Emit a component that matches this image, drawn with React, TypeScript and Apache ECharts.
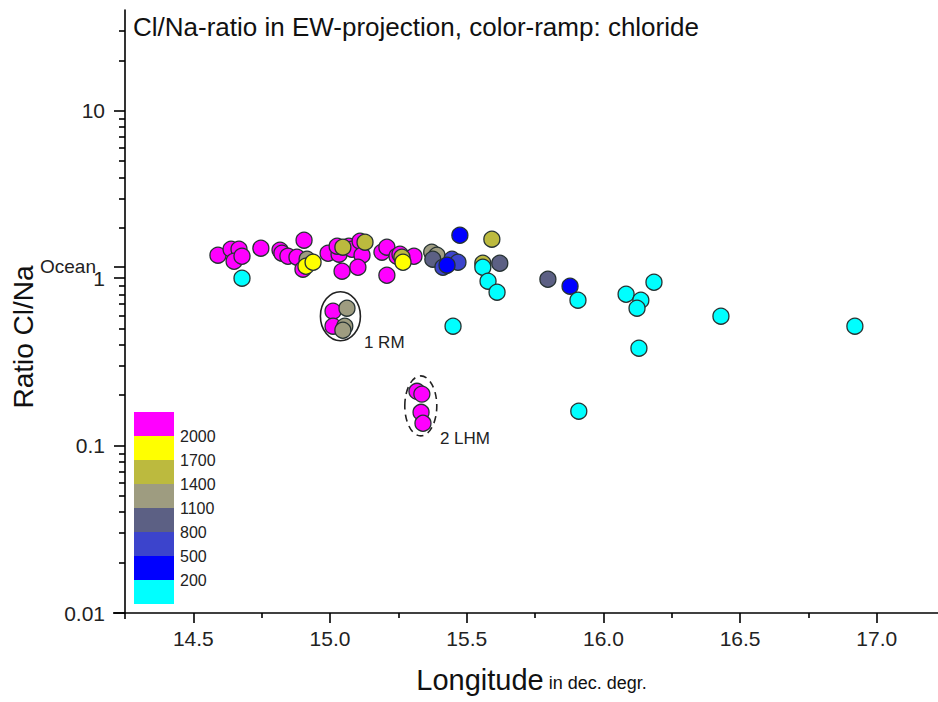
import React, { useEffect, useRef } from "react";
import * as echarts from "echarts";

const FONT = '"Liberation Sans", Arial, Helvetica, sans-serif';

// Longitude (dec. degr.), Cl/Na ratio, chloride (mg/l) per sample
const longitude = [
  14.590, 14.638, 14.667, 14.649, 14.678, 14.747, 14.817, 14.824, 14.846, 14.879,
  14.905, 14.901, 14.993, 15.033, 15.026, 15.069, 15.080, 15.110, 15.117, 15.044,
  15.102, 15.190, 15.208, 15.245, 15.208, 15.256, 15.307, 15.011, 15.011, 15.318,
  15.336, 15.333, 15.340,
  14.916, 15.372, 15.391, 15.062, 15.054, 15.047,
  15.047, 15.128, 15.592, 15.559, 15.263,
  14.912, 14.938, 15.267,
  15.621, 15.797, 15.376,
  15.446, 15.468, 15.413,
  15.475, 15.428, 15.878,
  14.678, 15.559, 15.578, 15.611, 15.907, 16.083, 16.137, 16.123, 16.185, 16.430,
  16.920, 16.130, 15.910, 15.450,
];
const ratio = [
  1.372, 1.490, 1.490, 1.263, 1.353, 1.511, 1.470, 1.410, 1.353, 1.335,
  1.687, 1.132, 1.410, 1.391, 1.553, 1.553, 1.490, 1.663, 1.372, 1.101,
  1.163, 1.430, 1.532, 1.353, 1.042, 1.391, 1.353, 0.635, 0.517, 0.211,
  0.203, 0.158, 0.136,
  1.299, 1.430, 1.372, 0.662, 0.517, 0.489,
  1.532, 1.641, 1.710, 1.229, 1.335,
  1.179, 1.246, 1.246,
  1.229, 0.986, 1.299,
  1.299, 1.246, 1.163,
  1.806, 1.196, 0.896,
  1.000, 1.163, 0.960, 0.825, 0.739, 0.802, 0.739, 0.662, 0.946, 0.593,
  0.517, 0.382, 0.1605, 0.517,
];
const chloride = [
  2300, 2300, 2300, 2300, 2300, 2300, 2300, 2300, 2300, 2300,
  2300, 2300, 2300, 2300, 2300, 2300, 2300, 2300, 2300, 2300,
  2300, 2300, 2300, 2300, 2300, 2300, 2300, 2300, 2300, 2300,
  2300, 2300, 2300,
  1250, 1250, 1250, 1250, 1250, 1250,
  1550, 1550, 1550, 1550, 1550,
  1850, 1850, 1850,
  950, 950, 950,
  650, 650, 650,
  350, 350, 350,
  120, 120, 120, 120, 120, 120, 120, 120, 120, 120,
  120, 120, 120, 120,
];

// colour ramp (low -> high) and class limits
const rampColors = ["#00FFFF", "#0000FF", "#3C44CC", "#5C6084", "#9E9C80", "#BCBA3E", "#FFFF00", "#FF00FF"];
const rampLimits = [200, 500, 800, 1100, 1400, 1700, 2000];

const xMajorTicks = [14.5, 15.0, 15.5, 16.0, 16.5, 17.0];
const xMinorTicks = [14.75, 15.25, 15.75, 16.25, 16.75];
const OCEAN = 1.165;
const yMajorTicks = [0.01, 0.1, 1, OCEAN, 10];
const yLabelValues = [0.01, 0.1, 1, 10];
const yMinorTicks = [
  0.02, 0.03, 0.04, 0.05, 0.06, 0.07, 0.08, 0.09,
  0.2, 0.3, 0.4, 0.5, 0.6, 0.7, 0.8, 0.9,
  2, 3, 4, 5, 6, 7, 8, 9,
  20, 30,
];

// annotations: [lon, ratio]
const rmCenter = [15.038, 0.593];
const lhmCenter = [15.332, 0.1726];
const rmLabelAt = [15.124, 0.415];
const lhmLabelAt = [15.402, 0.1107];

export default function App() {
  const ref = useRef<HTMLDivElement>(null);

  useEffect(() => {
    if (!ref.current) return;
    const chart = echarts.init(ref.current, null, { renderer: "svg" });

    const pieces = rampColors.map((c, i) => {
      const p: any = { color: c };
      if (i > 0) p.gte = rampLimits[i - 1];
      if (i < rampLimits.length) p.lt = rampLimits[i];
      return p;
    });

    const axisLineStyle = { color: "#000", width: 1.6 };

    const option: any = {
      animation: false,
      backgroundColor: "#fff",
      textStyle: { fontFamily: FONT },
      title: {
        text: "Cl/Na-ratio in EW-projection, color-ramp: chloride",
        left: 133,
        top: 14,
        padding: 0,
        textStyle: { fontFamily: FONT, fontSize: 26, fontWeight: "normal", color: "#111" },
      },
      grid: { left: 125, right: 0, top: 10, bottom: 89 },
      visualMap: {
        type: "piecewise",
        show: false,
        dimension: 2,
        seriesIndex: 0,
        pieces,
      },
      xAxis: [
        {
          type: "value",
          min: 14.25,
          max: 17.224,
          position: "bottom",
          axisLine: { show: true, lineStyle: axisLineStyle },
          axisTick: { show: true, customValues: xMajorTicks, length: 10, lineStyle: { color: "#000", width: 1.6 } },
          axisLabel: {
            customValues: xMajorTicks,
            formatter: (v: number) => v.toFixed(1),
            margin: 15,
            fontSize: 21,
            fontFamily: FONT,
            color: "#222",
          },
          splitLine: { show: false },
          name: "{a|Longitude}{b| in dec. degr.}",
          nameLocation: "middle",
          nameGap: 52,
          nameTextStyle: {
            rich: {
              a: { fontSize: 29, fontFamily: FONT, color: "#111", verticalAlign: "bottom" },
              b: { fontSize: 18, fontFamily: FONT, color: "#111", verticalAlign: "bottom", padding: [0, 0, 2, 0] },
            },
          },
        },
        {
          type: "value",
          min: 14.25,
          max: 17.224,
          position: "bottom",
          axisLine: { show: false },
          axisTick: { show: true, customValues: xMinorTicks, length: 5, lineStyle: { color: "#000", width: 1.6 } },
          axisLabel: { show: false },
          splitLine: { show: false },
        },
      ],
      yAxis: [
        {
          type: "log",
          logBase: 10,
          min: 0.01,
          max: 40,
          position: "left",
          axisLine: { show: true, lineStyle: axisLineStyle },
          axisTick: { show: true, customValues: yMajorTicks, length: 11, lineStyle: { color: "#000", width: 1.6 } },
          axisLabel: {
            customValues: yLabelValues,
            formatter: (v: number) => String(v),
            margin: 20,
            fontSize: 21,
            fontFamily: FONT,
            color: "#222",
          },
          splitLine: { show: false },
        },
        {
          type: "log",
          logBase: 10,
          min: 0.01,
          max: 40,
          position: "left",
          axisLine: { show: false },
          axisTick: { show: true, customValues: yMinorTicks, length: 6, lineStyle: { color: "#000", width: 1.6 } },
          axisLabel: { show: false },
          splitLine: { show: false },
        },
      ],
      series: [
        {
          type: "scatter",
          xAxisIndex: 0,
          yAxisIndex: 0,
          symbol: "circle",
          symbolSize: 16,
          itemStyle: { borderColor: "#263232", borderWidth: 1.3, opacity: 1 },
          data: longitude.map((x, i) => [x, ratio[i], chloride[i]]),
        },
      ],
    };

    chart.setOption(option);

    const px = (pt: number[]) => chart.convertToPixel({ seriesIndex: 0 }, pt) as number[];
    const origin = px([14.25, 0.01]);
    const ocean = px([14.25, OCEAN]);
    const rm = px(rmCenter);
    const lhm = px(lhmCenter);
    const rmL = px(rmLabelAt);
    const lhmL = px(lhmLabelAt);

    const graphics: any[] = [];
    // color ramp legend
    const barX = 134, barTop = 412, segH = 24, barW = 40;
    const topDown = rampColors.slice().reverse();
    topDown.forEach((c, i) => {
      graphics.push({
        type: "rect",
        shape: { x: barX, y: barTop + i * segH, width: barW, height: segH },
        style: { fill: c },
        z: 10,
      });
    });
    rampLimits
      .slice()
      .reverse()
      .forEach((v, i) => {
        graphics.push({
          type: "text",
          x: 180,
          y: barTop + (i + 1) * segH,
          style: { text: String(v), fontSize: 16, fontFamily: FONT, fill: "#222", verticalAlign: "middle", align: "left" },
          z: 10,
        });
      });
    // "Ocean" tick label
    graphics.push({
      type: "text",
      x: ocean[0] - 29,
      y: ocean[1] - 1,
      style: { text: "Ocean", fontSize: 19, fontFamily: FONT, fill: "#222", verticalAlign: "middle", align: "right" },
      z: 10,
    });
    // annotation ellipses & labels
    graphics.push({
      type: "ellipse",
      shape: { cx: rm[0], cy: rm[1], rx: 20, ry: 24.5 },
      style: { fill: "none", stroke: "#222", lineWidth: 1.6 },
      z: 10,
    });
    graphics.push({
      type: "ellipse",
      shape: { cx: lhm[0], cy: lhm[1], rx: 16, ry: 30 },
      style: { fill: "none", stroke: "#222", lineWidth: 1.6, lineDash: [7, 5] },
      z: 10,
    });
    graphics.push({
      type: "text",
      x: rmL[0],
      y: rmL[1],
      style: { text: "1 RM", fontSize: 17, fontFamily: FONT, fill: "#222", verticalAlign: "middle", align: "left" },
      z: 10,
    });
    graphics.push({
      type: "text",
      x: lhmL[0],
      y: lhmL[1],
      style: { text: "2 LHM", fontSize: 17, fontFamily: FONT, fill: "#222", verticalAlign: "middle", align: "left" },
      z: 10,
    });
    // y axis title
    graphics.push({
      type: "text",
      x: 23,
      y: 337,
      rotation: Math.PI / 2,
      style: { text: "Ratio Cl/Na", fontSize: 28, fontFamily: FONT, fill: "#111", align: "center", verticalAlign: "middle" },
      z: 10,
    });
    // small axis extensions past the origin
    graphics.push({
      type: "line",
      shape: { x1: origin[0] - 12, y1: origin[1], x2: origin[0], y2: origin[1] },
      style: { stroke: "#000", lineWidth: 1.6 },
      z: 10,
    });
    graphics.push({
      type: "line",
      shape: { x1: origin[0], y1: origin[1], x2: origin[0], y2: origin[1] + 6 },
      style: { stroke: "#000", lineWidth: 1.6 },
      z: 10,
    });

    chart.setOption({ graphic: graphics });

    return () => chart.dispose();
  }, []);

  return (
    <div
      ref={ref}
      style={{ position: "absolute", left: 0, top: 0, width: 938, height: 702, background: "#fff" }}
    />
  );
}
